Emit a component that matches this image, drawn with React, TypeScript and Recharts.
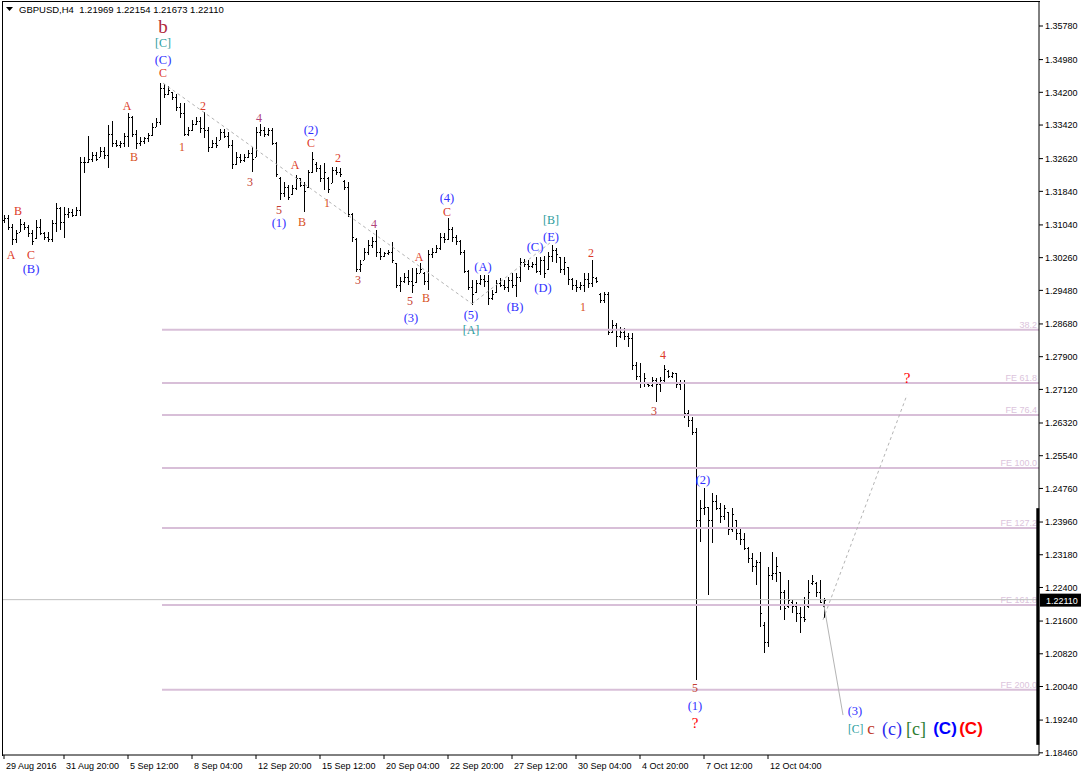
import React from 'react';
import { ComposedChart, Bar, XAxis, YAxis, ReferenceLine, ReferenceDot } from 'recharts';

const FONT = "Tahoma, 'Liberation Sans', Arial, sans-serif";
const SERIF = "'Liberation Serif', 'Times New Roman', serif";

// ---- OHLC data (GBPUSD H4), bar index 0..205 ----
const opens = [
  1.3115,1.3120,1.3100,1.3070,1.3088,1.3105,1.3098,1.3085,1.3072,1.3100,
  1.3085,1.3075,1.3070,1.3108,1.3145,1.3110,1.3130,1.3135,1.3128,1.3140,
  1.3255,1.3255,1.3262,1.3270,1.3266,1.3280,1.3270,1.3320,1.3300,1.3295,
  1.3300,1.3315,1.3360,1.3320,1.3300,1.3305,1.3310,1.3318,1.3338,1.3350,
  1.3430,1.3415,1.3420,1.3410,1.3385,1.3370,1.3320,1.3330,1.3345,1.3352,
  1.3335,1.3330,1.3290,1.3300,1.3306,1.3325,1.3315,1.3295,1.3250,1.3265,
  1.3258,1.3266,1.3275,1.3266,1.3325,1.3330,1.3320,1.3330,1.3300,1.3215,
  1.3180,1.3195,1.3178,1.3192,1.3215,1.3200,1.3195,1.3230,1.3250,1.3240,
  1.3215,1.3215,1.3205,1.3235,1.3230,1.3208,1.3195,1.3130,1.3070,1.3000,
  1.3020,1.3040,1.3055,1.3065,1.3040,1.3030,1.3036,1.3040,1.3013,1.2960,
  1.2970,1.2980,1.2970,1.2968,1.2990,1.2990,1.2970,1.3035,1.3040,1.3050,
  1.3075,1.3070,1.3095,1.3075,1.3065,1.3040,1.2995,1.2955,1.2945,1.2965,
  1.2975,1.2970,1.2930,1.2945,1.2965,1.2960,1.2955,1.2972,1.2960,1.2980,
  1.3015,1.3010,1.3005,1.3010,1.2995,1.3020,1.2998,1.3030,1.3045,1.3028,
  1.3000,1.3004,1.2975,1.2960,1.2955,1.2960,1.2975,1.2965,1.2978,1.2940,
  1.2925,1.2940,1.2850,1.2865,1.2840,1.2850,1.2840,1.2835,1.2770,1.2745,
  1.2730,1.2725,1.2722,1.2735,1.2725,1.2735,1.2755,1.2745,1.2750,1.2725,
  1.2730,1.2655,1.2640,1.2610,1.2400,1.2430,1.2432,1.2400,1.2445,1.2430,
  1.2410,1.2420,1.2380,1.2400,1.2370,1.2355,1.2335,1.2310,1.2290,1.2300,
  1.2150,1.2110,1.2270,1.2275,1.2277,1.2230,1.2195,1.2205,1.2195,1.2180,
  1.2170,1.2195,1.2250,1.2250,1.2230,1.21969,
];
const highs = [
  1.3128,1.3128,1.3106,1.3092,1.3118,1.3111,1.3104,1.3092,1.3116,1.3118,
  1.3087,1.3087,1.3116,1.3156,1.3147,1.3147,1.3144,1.3142,1.3147,1.3266,
  1.3266,1.3316,1.3278,1.3278,1.3290,1.3290,1.3342,1.3352,1.3306,1.3304,
  1.3323,1.3371,1.3364,1.3330,1.3314,1.3314,1.3323,1.3347,1.3359,1.3442,
  1.3440,1.3435,1.3421,1.3416,1.3395,1.3395,1.3337,1.3354,1.3361,1.3361,
  1.3373,1.3337,1.3306,1.3314,1.3333,1.3333,1.3325,1.3306,1.3278,1.3273,
  1.3273,1.3283,1.3290,1.3337,1.3345,1.3337,1.3335,1.3335,1.3302,1.3218,
  1.3206,1.3199,1.3199,1.3223,1.3216,1.3206,1.3235,1.3278,1.3254,1.3247,
  1.3252,1.3218,1.3242,1.3242,1.3240,1.3211,1.3206,1.3132,1.3073,1.3020,
  1.3049,1.3068,1.3075,1.3092,1.3049,1.3039,1.3044,1.3063,1.3013,1.2980,
  1.2989,1.2997,1.3001,1.3001,1.3013,1.2992,1.3044,1.3049,1.3056,1.3085,
  1.3085,1.3120,1.3099,1.3080,1.3068,1.3044,1.2997,1.2973,1.2973,1.2985,
  1.2985,1.2985,1.2949,1.2973,1.2978,1.2973,1.2980,1.2989,1.2989,1.3025,
  1.3023,1.3020,1.3016,1.3028,1.3028,1.3030,1.3039,1.3056,1.3049,1.3028,
  1.3028,1.3004,1.2978,1.2973,1.2968,1.2989,1.2989,1.3020,1.2980,1.2942,
  1.2944,1.2944,1.2877,1.2870,1.2861,1.2858,1.2846,1.2846,1.2777,1.2775,
  1.2751,1.2730,1.2742,1.2739,1.2742,1.2770,1.2758,1.2754,1.2751,1.2734,
  1.2734,1.2663,1.2646,1.2620,1.2449,1.2477,1.2432,1.2465,1.2460,1.2441,
  1.2437,1.2420,1.2429,1.2401,1.2382,1.2370,1.2337,1.2322,1.2306,1.2325,
  1.2158,1.2289,1.2325,1.2313,1.2277,1.2234,1.2258,1.2210,1.2205,1.2194,
  1.2217,1.2258,1.2270,1.2253,1.2258,1.22154,
];
const lows = [
  1.3109,1.3092,1.3056,1.3061,1.3087,1.3092,1.3075,1.3056,1.3070,1.3080,
  1.3068,1.3063,1.3063,1.3087,1.3092,1.3073,1.3120,1.3123,1.3125,1.3125,
  1.3228,1.3252,1.3254,1.3256,1.3266,1.3261,1.3240,1.3290,1.3290,1.3287,
  1.3290,1.3290,1.3314,1.3285,1.3292,1.3297,1.3302,1.3316,1.3337,1.3342,
  1.3406,1.3414,1.3402,1.3376,1.3359,1.3316,1.3316,1.3328,1.3342,1.3323,
  1.3311,1.3278,1.3287,1.3287,1.3306,1.3311,1.3287,1.3237,1.3247,1.3252,
  1.3254,1.3264,1.3230,1.3266,1.3316,1.3314,1.3316,1.3295,1.3218,1.3163,
  1.3171,1.3163,1.3175,1.3187,1.3194,1.3135,1.3192,1.3228,1.3230,1.3206,
  1.3187,1.3180,1.3204,1.3223,1.3218,1.3187,1.3123,1.3063,1.2992,1.2992,
  1.3020,1.3032,1.3049,1.3028,1.3020,1.3028,1.3032,1.3013,1.2954,1.2944,
  1.2966,1.2961,1.2942,1.2966,1.2989,1.2961,1.2949,1.3025,1.3037,1.3044,
  1.3061,1.3068,1.3063,1.3056,1.3032,1.2989,1.2949,1.2913,1.2942,1.2961,
  1.2956,1.2913,1.2925,1.2942,1.2956,1.2949,1.2944,1.2954,1.2932,1.2968,
  1.3004,1.2997,1.3001,1.2989,1.2985,1.2978,1.2997,1.3016,1.3013,1.2989,
  1.2985,1.2961,1.2949,1.2944,1.2949,1.2944,1.2954,1.2956,1.2966,1.2918,
  1.2918,1.2842,1.2846,1.2813,1.2835,1.2830,1.2813,1.2758,1.2734,1.2715,
  1.2718,1.2718,1.2718,1.2682,1.2706,1.2727,1.2739,1.2739,1.2715,1.2711,
  1.2644,1.2622,1.2603,1.2020,1.2348,1.2413,1.2222,1.2346,1.2425,1.2394,
  1.2401,1.2365,1.2372,1.2353,1.2341,1.2329,1.2298,1.2277,1.2246,1.2146,
  1.2084,1.2098,1.2258,1.2253,1.2186,1.2163,1.2191,1.2179,1.2158,1.2132,
  1.2158,1.2191,1.2246,1.2217,1.2203,1.21673,
];
const closes = [
  1.3120,1.3100,1.3070,1.3085,1.3105,1.3098,1.3085,1.3065,1.3100,1.3085,
  1.3075,1.3070,1.3108,1.3145,1.3110,1.3130,1.3135,1.3128,1.3140,1.3255,
  1.3255,1.3262,1.3270,1.3262,1.3280,1.3270,1.3320,1.3300,1.3295,1.3300,
  1.3315,1.3360,1.3320,1.3300,1.3305,1.3310,1.3318,1.3338,1.3350,1.3430,
  1.3415,1.3425,1.3410,1.3385,1.3370,1.3320,1.3330,1.3345,1.3352,1.3335,
  1.3330,1.3290,1.3300,1.3295,1.3325,1.3315,1.3295,1.3250,1.3265,1.3258,
  1.3266,1.3275,1.3260,1.3325,1.3330,1.3320,1.3330,1.3300,1.3225,1.3180,
  1.3195,1.3170,1.3192,1.3215,1.3200,1.3185,1.3230,1.3260,1.3240,1.3215,
  1.3230,1.3190,1.3235,1.3230,1.3225,1.3195,1.3130,1.3075,1.3000,1.3010,
  1.3040,1.3055,1.3065,1.3040,1.3030,1.3036,1.3040,1.3020,1.2960,1.2970,
  1.2980,1.2970,1.2960,1.2990,1.3000,1.2970,1.3035,1.3040,1.3050,1.3075,
  1.3070,1.3095,1.3075,1.3065,1.3040,1.2995,1.2955,1.2940,1.2965,1.2975,
  1.2970,1.2930,1.2940,1.2965,1.2960,1.2955,1.2972,1.2960,1.2980,1.3015,
  1.3010,1.3005,1.3010,1.2995,1.3020,1.2990,1.3030,1.3045,1.3035,1.3000,
  1.3015,1.2975,1.2960,1.2955,1.2960,1.2975,1.2965,1.2980,1.2970,1.2925,
  1.2940,1.2850,1.2865,1.2840,1.2850,1.2840,1.2835,1.2770,1.2745,1.2730,
  1.2740,1.2722,1.2735,1.2725,1.2735,1.2760,1.2745,1.2750,1.2725,1.2730,
  1.2655,1.2640,1.2610,1.2400,1.2430,1.2432,1.2400,1.2445,1.2430,1.2410,
  1.2430,1.2380,1.2415,1.2370,1.2355,1.2335,1.2310,1.2290,1.2300,1.2180,
  1.2110,1.2270,1.2275,1.2290,1.2230,1.2190,1.2210,1.2195,1.2180,1.2170,
  1.2165,1.2230,1.2255,1.2230,1.2205,1.22110,
];

// ---- Axis ticks ----
const xTickIdx = [0, 15, 31, 47, 63, 79, 95, 111, 127, 143, 159, 175, 191];
const xTickLabels = [
  '29 Aug 2016', '31 Aug 20:00', '5 Sep 12:00', '8 Sep 04:00', '12 Sep 20:00', '15 Sep 12:00',
  '20 Sep 04:00', '22 Sep 20:00', '27 Sep 12:00', '30 Sep 04:00', '4 Oct 20:00', '7 Oct 12:00', '12 Oct 04:00',
];
const yTicks = [
  1.3578, 1.3498, 1.342, 1.3342, 1.3262, 1.3184, 1.3104, 1.3026, 1.2948, 1.2868, 1.279, 1.2712,
  1.2632, 1.2554, 1.2476, 1.2396, 1.2318, 1.224, 1.216, 1.2082, 1.2004, 1.1924, 1.1846,
];

// ---- Fibonacci levels ----
const fibLevels = [1.2854, 1.2727, 1.2651, 1.2525, 1.2382, 1.2198, 1.1996];
const fibLabels = ['38.2', 'FE 61.8', 'FE 76.4', 'FE 100.0', 'FE 127.2', 'FE 161.8', 'FE 200.0'];
const fibStartIdx = 39.5;

// ---- Wave labels: [bar index, price, text, kind] ----
const waveLabels: [number, number, string, string][] = [
  [39.75, 1.3578, 'b', 'big'],
  [39.75, 1.3538, '[C]', 'teal'],
  [39.75, 1.3497, '(C)', 'blue'],
  [39.75, 1.3466, 'C', 'red'],
  [30.75, 1.3387, 'A', 'red'],
  [32.5, 1.3266, 'B', 'orange'],
  [49.75, 1.3387, '2', 'red'],
  [44.5, 1.3290, '1', 'orange'],
  [63.75, 1.3359, '4', 'purple'],
  [61.5, 1.3206, '3', 'brown'],
  [68.75, 1.3140, '5', 'brown'],
  [68.75, 1.3109, '(1)', 'blue'],
  [3.5, 1.3137, 'B', 'red'],
  [1.75, 1.3032, 'A', 'red'],
  [6.75, 1.3032, 'C', 'red'],
  [6.75, 1.2999, '(B)', 'blue'],
  [76.75, 1.3330, '(2)', 'blue'],
  [76.75, 1.3299, 'C', 'red'],
  [72.75, 1.3247, 'A', 'red'],
  [74.5, 1.3111, 'B', 'orange'],
  [83.5, 1.3263, '2', 'red'],
  [80.75, 1.3156, '1', 'orange'],
  [92.5, 1.3106, '4', 'purple'],
  [88.5, 1.2973, '3', 'brown'],
  [103.75, 1.3028, 'A', 'red'],
  [101.5, 1.2923, '5', 'brown'],
  [105.5, 1.2930, 'B', 'orange'],
  [101.75, 1.2882, '(3)', 'blue'],
  [110.75, 1.3168, '(4)', 'blue'],
  [110.75, 1.3135, 'C', 'red'],
  [116.75, 1.2889, '(5)', 'blue'],
  [116.75, 1.2854, '[A]', 'teal'],
  [119.75, 1.3004, '(A)', 'blue'],
  [127.75, 1.2908, '(B)', 'blue'],
  [132.75, 1.3051, '(C)', 'blue'],
  [134.75, 1.2954, '(D)', 'blue'],
  [136.75, 1.3075, '(E)', 'blue'],
  [136.75, 1.3116, '[B]', 'teal'],
  [146.75, 1.3037, '2', 'red'],
  [144.75, 1.2908, '1', 'orange'],
  [164.75, 1.2794, '4', 'red'],
  [162.5, 1.2661, '3', 'brown'],
  [174.75, 1.2496, '(2)', 'blue'],
  [172.75, 1.2000, '5', 'brown'],
  [172.75, 1.1958, '(1)', 'blue'],
  [172.75, 1.1917, '?', 'q'],
  [212.75, 1.1946, '(3)', 'blue'],
  [225.75, 1.2739, '?', 'q'],
  [212.9, 1.1903, '[C]', 'tealS'],
  [216.75, 1.1903, 'c', 'cRed'],
  [222, 1.1903, '(c)', 'cBlue'],
  [228, 1.1903, '[c]', 'cGreen'],
  [235.25, 1.1903, '(C)', 'CBlue'],
  [241.75, 1.1903, '(C)', 'CRed'],
];

// ---- Trend / projection lines: [x1, y1, x2, y2] ----
const dashedLines: [number, number, number, number][] = [
  [39.75, 1.3442, 117, 1.2916],
  [117, 1.2916, 136.75, 1.3063],
  [204.75, 1.2163, 225.75, 1.2699],
];
const solidLines: [number, number, number, number][] = [[204.75, 1.2210, 209.75, 1.1936]];
const markerSegment: [number, number] = [1.1865, 1.2429];

const lastClose = closes[closes.length - 1];
const titleText = `GBPUSD,H4  ${opens[opens.length - 1].toFixed(5)} ${highs[highs.length - 1].toFixed(5)} ${lows[lows.length - 1].toFixed(5)} ${lastClose.toFixed(5)}`;

const bars = opens.map((o, i) => ({ i, o, h: highs[i], l: lows[i], c: closes[i], range: [lows[i], highs[i]] }));

const kindStyle: Record<string, any> = {
  big: { fill: '#b0283a', fontSize: 19, fontFamily: SERIF },
  teal: { fill: '#2a9d9d', fontSize: 12, fontFamily: SERIF },
  blue: { fill: '#3030ff', fontSize: 12.5, fontFamily: SERIF },
  red: { fill: '#dc3a28', fontSize: 12, fontFamily: SERIF },
  orange: { fill: '#d8521e', fontSize: 12, fontFamily: SERIF },
  purple: { fill: '#b0447a', fontSize: 12, fontFamily: SERIF },
  brown: { fill: '#c44032', fontSize: 12, fontFamily: SERIF },
  q: { fill: '#ff0000', fontSize: 15, fontFamily: SERIF },
  tealS: { fill: '#2a9d9d', fontSize: 11.5, fontFamily: SERIF },
  cRed: { fill: '#c0392b', fontSize: 17, fontFamily: SERIF },
  cBlue: { fill: '#2a2aee', fontSize: 18, fontFamily: SERIF },
  cGreen: { fill: '#2e7d32', fontSize: 18, fontFamily: SERIF },
  CBlue: { fill: '#0000ff', fontSize: 17, fontFamily: "'Liberation Sans', Arial, sans-serif", fontWeight: 'bold' },
  CRed: { fill: '#ff0000', fontSize: 17, fontFamily: "'Liberation Sans', Arial, sans-serif", fontWeight: 'bold' },
};

const OhlcShape = (props: any) => {
  const { x, y, width, height, payload } = props;
  if (x == null || y == null || !payload) return null;
  const px = Math.round(x + width / 2 - 0.5);
  const { o, h, l, c } = payload;
  const span = h - l || 1;
  const hh = Math.max(height, 1);
  const yo = Math.round(y + ((h - o) / span) * hh);
  const yc = Math.round(y + ((h - c) / span) * hh);
  const top = Math.round(y);
  return (
    <g shapeRendering="crispEdges" fill="#000">
      <rect x={px} y={top} width={1} height={Math.max(Math.round(hh), 1)} />
      <rect x={px - 1} y={yo} width={1} height={1} />
      <rect x={px + 1} y={yc} width={1} height={1} />
    </g>
  );
};

const XTick = (props: any) => {
  const { x, y, payload } = props;
  const idx = xTickIdx.indexOf(payload.value);
  return (
    <text x={x + 2} y={y + 8} fontSize={9} fontFamily={FONT} fill="#000">
      {idx >= 0 ? xTickLabels[idx] : ''}
    </text>
  );
};

const makeTextShape = (text: string, kind: string) => (p: any) => (
  <text x={p.cx} y={p.cy} textAnchor="middle" dominantBaseline="central" {...kindStyle[kind]}>
    {text}
  </text>
);

export default function App() {
  return (
    <div style={{ position: 'absolute', left: 0, top: 0, width: 1081, height: 777, background: '#fff', overflow: 'hidden' }}>
      <ComposedChart width={1081} height={777} data={bars} margin={{ top: 1, right: 0, bottom: 0, left: 2 }}>
        <XAxis
          dataKey="i"
          type="number"
          domain={[-0.5, 258.75]}
          ticks={xTickIdx}
          interval={0}
          allowDataOverflow
          height={22}
          tickSize={4}
          tickLine={{ stroke: '#000' }}
          axisLine={{ stroke: '#000' }}
          tick={<XTick />}
        />
        <YAxis
          orientation="right"
          type="number"
          domain={[1.18408, 1.36376]}
          allowDataOverflow
          ticks={yTicks}
          interval={0}
          width={42}
          tickSize={4}
          tickMargin={2}
          tickLine={{ stroke: '#000' }}
          axisLine={{ stroke: '#000' }}
          tick={{ fill: '#000', fontSize: 9, fontFamily: FONT }}
          tickFormatter={(v: number) => v.toFixed(5)}
        />
        {fibLevels.map((lv, k) => (
          <ReferenceLine
            key={'fib' + k}
            segment={[{ x: fibStartIdx, y: lv }, { x: 258.75, y: lv }]}
            stroke="#d8bfd8"
            strokeWidth={2}
            ifOverflow="visible"
            label={(p: any) => (
              <text
                x={p.viewBox.x + p.viewBox.width - 2}
                y={p.viewBox.y - 2}
                textAnchor="end"
                fontSize={9}
                fontFamily={FONT}
                fill="#dcc4dc"
              >
                {fibLabels[k]}
              </text>
            )}
          />
        ))}
        <ReferenceLine
          y={lastClose}
          stroke="#c0c0c0"
          strokeWidth={1}
          label={(p: any) => (
            <g>
              <rect x={p.viewBox.x + p.viewBox.width + 1} y={p.viewBox.y - 6} width={42} height={13} fill="#000" />
              <text x={p.viewBox.x + p.viewBox.width + 7} y={p.viewBox.y + 4} fontSize={9} fontFamily={FONT} fill="#fff">
                {lastClose.toFixed(5)}
              </text>
            </g>
          )}
        />
        <ReferenceLine
          segment={[{ x: 258.45, y: markerSegment[0] }, { x: 258.45, y: markerSegment[1] }]}
          stroke="#000"
          strokeWidth={3}
          ifOverflow="visible"
        />
        {dashedLines.map((s, k) => (
          <ReferenceLine
            key={'d' + k}
            segment={[{ x: s[0], y: s[1] }, { x: s[2], y: s[3] }]}
            stroke="#b4b4b4"
            strokeDasharray="3 3"
            ifOverflow="visible"
          />
        ))}
        {solidLines.map((s, k) => (
          <ReferenceLine
            key={'s' + k}
            segment={[{ x: s[0], y: s[1] }, { x: s[2], y: s[3] }]}
            stroke="#b4b4b4"
            ifOverflow="visible"
          />
        ))}
        <Bar dataKey="range" barSize={2} shape={OhlcShape} isAnimationActive={false} />
        {waveLabels.map((w, k) => (
          <ReferenceDot
            key={'w' + k}
            x={w[0]}
            y={w[1]}
            r={0}
            ifOverflow="visible"
            shape={makeTextShape(w[2], w[3])}
          />
        ))}
      </ComposedChart>
      <div
        style={{
          position: 'absolute',
          left: 2,
          top: 1,
          width: 1037,
          height: 754,
          borderLeft: '1px solid #000',
          borderTop: '1px solid #000',
          pointerEvents: 'none',
        }}
      />
      <div
        style={{
          position: 'absolute',
          left: 6,
          top: 4,
          fontFamily: FONT,
          fontSize: 9.5,
          color: '#000',
          whiteSpace: 'pre',
          display: 'flex',
          alignItems: 'center',
        }}
      >
        <svg width={8} height={6} style={{ marginRight: 5 }}>
          <polygon points="0,0 7,0 3.5,4" fill="#000" />
        </svg>
        <span>{titleText}</span>
      </div>
    </div>
  );
}
